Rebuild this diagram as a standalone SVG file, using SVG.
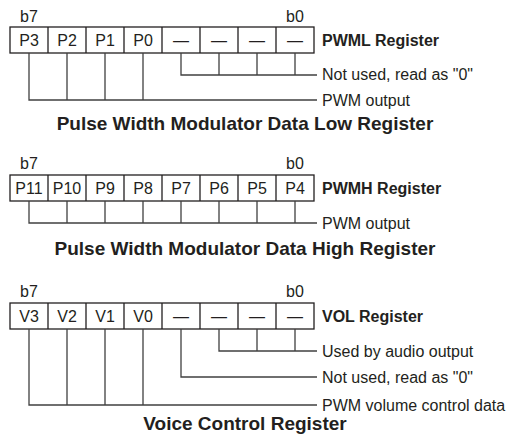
<svg xmlns="http://www.w3.org/2000/svg" width="515" height="445" viewBox="0 0 515 445">
<style>
text{font-family:"Liberation Sans",Arial,sans-serif;fill:#231f20}
.c{font-size:16px;text-anchor:middle}
.b{font-size:16px;text-anchor:middle}
.lab{font-size:16px;font-weight:bold}
.d{font-size:16px}
.t{font-size:19px;font-weight:bold;text-anchor:middle}
.box{fill:#fff;stroke:#231f20;stroke-width:1.3}
.ln{fill:none;stroke:#404040;stroke-width:1.3}
</style>
<g id="pwml">
<text class="b" x="29" y="22">b7</text>
<text class="b" x="295" y="22">b0</text>
<rect class="box" x="10" y="27" width="304" height="26"/>
<path class="ln" style="stroke:#231f20" d="M48,27V53M86,27V53M124,27V53M162,27V53M200,27V53M238,27V53M276,27V53"/>
<text class="c" x="29" y="46">P3</text>
<text class="c" x="67" y="46">P2</text>
<text class="c" x="105" y="46">P1</text>
<text class="c" x="143" y="46">P0</text>
<text class="c" x="181" y="46">—</text>
<text class="c" x="219" y="46">—</text>
<text class="c" x="257" y="46">—</text>
<text class="c" x="295" y="46">—</text>
<text class="lab" x="322" y="46">PWML Register</text>
<text class="d" x="322" y="80">Not used, read as "0"</text>
<text class="d" x="322" y="106">PWM output</text>
<text class="t" x="245" y="130">Pulse Width Modulator Data Low Register</text>
</g>
<g id="pwmh">
<text class="b" x="29" y="169">b7</text>
<text class="b" x="295" y="169">b0</text>
<rect class="box" x="10" y="175" width="304" height="26"/>
<path class="ln" style="stroke:#231f20" d="M48,175V201M86,175V201M124,175V201M162,175V201M200,175V201M238,175V201M276,175V201"/>
<text class="c" x="29" y="194">P11</text>
<text class="c" x="67" y="194">P10</text>
<text class="c" x="105" y="194">P9</text>
<text class="c" x="143" y="194">P8</text>
<text class="c" x="181" y="194">P7</text>
<text class="c" x="219" y="194">P6</text>
<text class="c" x="257" y="194">P5</text>
<text class="c" x="295" y="194">P4</text>
<text class="lab" x="322" y="194">PWMH Register</text>
<text class="d" x="322" y="229">PWM output</text>
<text class="t" x="245" y="255">Pulse Width Modulator Data High Register</text>
</g>
<g id="vol">
<text class="b" x="29" y="297">b7</text>
<text class="b" x="295" y="297">b0</text>
<rect class="box" x="10" y="303" width="304" height="26"/>
<path class="ln" style="stroke:#231f20" d="M48,303V329M86,303V329M124,303V329M162,303V329M200,303V329M238,303V329M276,303V329"/>
<text class="c" x="29" y="322">V3</text>
<text class="c" x="67" y="322">V2</text>
<text class="c" x="105" y="322">V1</text>
<text class="c" x="143" y="322">V0</text>
<text class="c" x="181" y="322">—</text>
<text class="c" x="219" y="322">—</text>
<text class="c" x="257" y="322">—</text>
<text class="c" x="295" y="322">—</text>
<text class="lab" x="322" y="322">VOL Register</text>
<text class="d" x="322" y="357">Used by audio output</text>
<text class="d" x="322" y="383">Not used, read as "0"</text>
<text class="d" x="322" y="411">PWM volume control data</text>
<text class="t" x="245" y="430">Voice Control Register</text>
</g>
<g id="connectors">
<path class="ln" d="M29,53V100H317M67,53V100M105,53V100M143,53V100"/>
<path class="ln" d="M181,53V75H317M219,53V75M257,53V75M295,53V75"/>
<path class="ln" d="M29,201V223H317M67,201V223M105,201V223M143,201V223M181,201V223M219,201V223M257,201V223M295,201V223"/>
<path class="ln" d="M29,329V405H317M67,329V405M105,329V405M143,329V405"/>
<path class="ln" d="M181,329V377H317"/>
<path class="ln" d="M219,329V351H317M257,329V351M295,329V351"/>
</g>
</svg>
